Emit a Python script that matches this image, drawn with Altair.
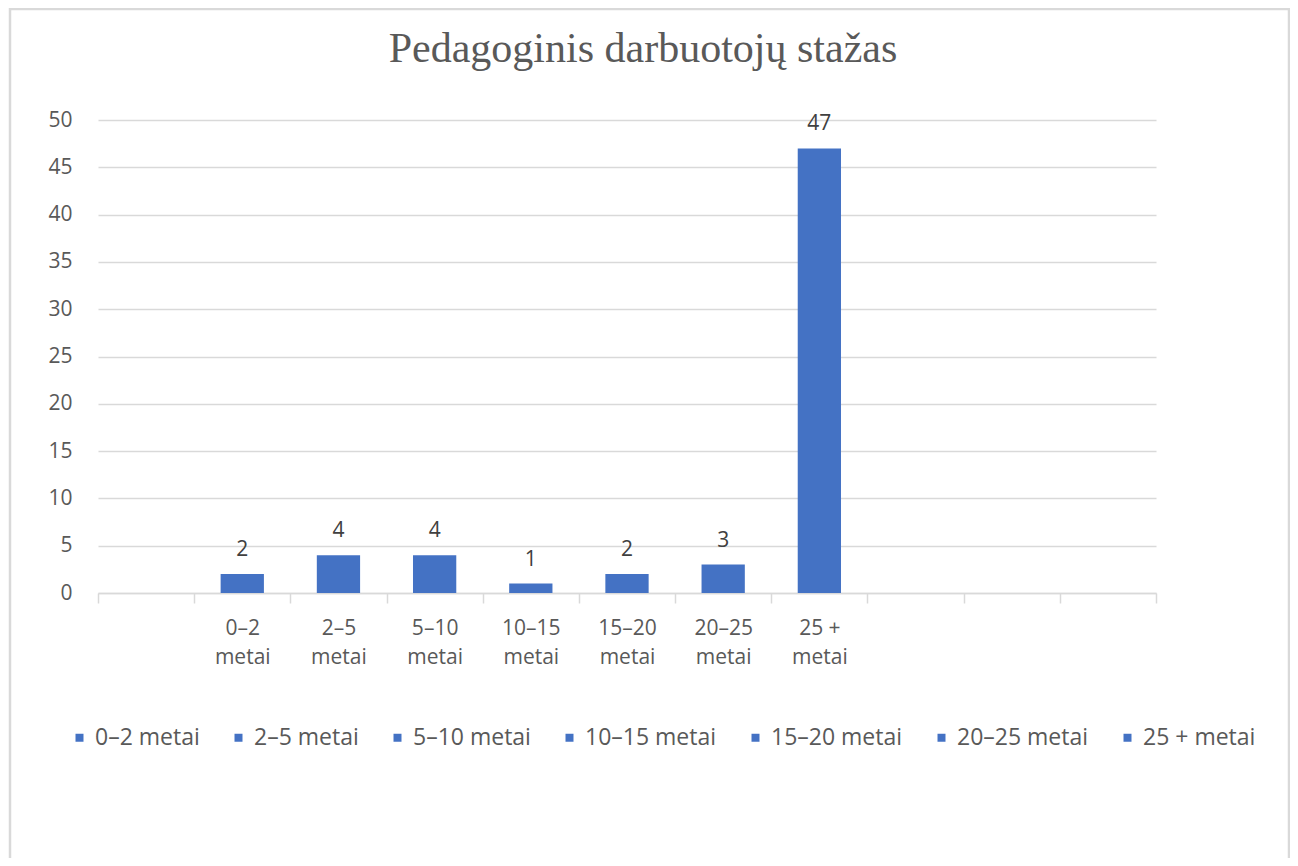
import altair as alt
import pandas as pd

categories = ["0–2 metai", "2–5 metai", "5–10 metai", "10–15 metai",
              "15–20 metai", "20–25 metai", "25 + metai"]
counts = [2, 4, 4, 1, 2, 3, 47]
lead_slots = ["_a"]
trail_slots = ["_b", "_c", "_d"]
slots = lead_slots + categories + trail_slots

BLUE = "#4472C4"
GRID = "#d9d9d9"
TXT = "#595959"
FONT = "Open Sans"

df = pd.DataFrame({"cat": categories, "n": counts})

x_enc = alt.X(
    "cat:N",
    scale=alt.Scale(domain=slots, paddingInner=0, paddingOuter=0),
    sort=slots,
    axis=alt.Axis(
        title=None,
        labelAngle=0,
        tickBand="extent",
        domainColor=GRID,
        domainWidth=1.5,
        tickColor=GRID,
        tickWidth=1.5,
        tickSize=10,
        labelPadding=14,
        labelFont=FONT,
        labelFontSize=21,
        labelColor=TXT,
        labelLineHeight=29,
        labelExpr="indexof(datum.label, '_') == 0 ? '' : (datum.label == '25 + metai' ? ['25 +', 'metai'] : split(datum.label, ' '))",
        grid=False,
    ),
)

y_enc = alt.Y(
    "n:Q",
    scale=alt.Scale(domain=[0, 50], nice=False),
    axis=alt.Axis(
        title=None,
        values=[0, 5, 10, 15, 20, 25, 30, 35, 40, 45, 50],
        domain=False,
        ticks=False,
        grid=True,
        gridColor=GRID,
        gridWidth=1.5,
        labelPadding=26,
        labelFont=FONT,
        labelFontSize=21,
        labelColor=TXT,
    ),
)

bars = alt.Chart(df).mark_bar(width=alt.RelativeBandSize(0.45)).encode(
    x=x_enc,
    y=y_enc,
    color=alt.Color(
        "cat:N",
        scale=alt.Scale(domain=categories, range=[BLUE] * len(categories)),
        legend=alt.Legend(
            title=None,
            orient="none",
            legendX=-30,
            legendY=606,
            direction="horizontal",
            columns=7,
            symbolType="square",
            symbolSize=64,
            symbolStrokeWidth=0,
            labelFont=FONT,
            labelFontSize=23,
            labelColor=TXT,
            labelOffset=4,
            columnPadding=27,
        ),
    ),
)

labels = alt.Chart(df).mark_text(
    baseline="alphabetic", dy=-18, font=FONT, fontSize=21, color="#404040"
).encode(x=alt.X("cat:N", sort=slots), y="n:Q", text="n:Q")

frame = alt.Chart(alt.Data(values=[{}])).mark_rect(
    fill=None, stroke=GRID, strokeWidth=2.5
).encode(
    x=alt.value(-88), x2=alt.value(1191), y=alt.value(-111), y2=alt.value(760)
)

chart = alt.layer(frame, bars, labels).properties(
    width=1058,
    height=473,
    padding={"left": 90, "top": 112, "right": 134, "bottom": 265},
    autosize=alt.AutoSizeParams(type="none"),
    title=alt.TitleParams(
        "Pedagoginis darbuotojų stažas",
        font="Liberation Serif",
        fontSize=42,
        fontWeight="normal",
        color=TXT,
        anchor="middle",
        dx=16,
        offset=-63,
    ),
).configure_view(stroke=None)

chart.save("out.html", embed_options={"renderer": "svg", "actions": False})
